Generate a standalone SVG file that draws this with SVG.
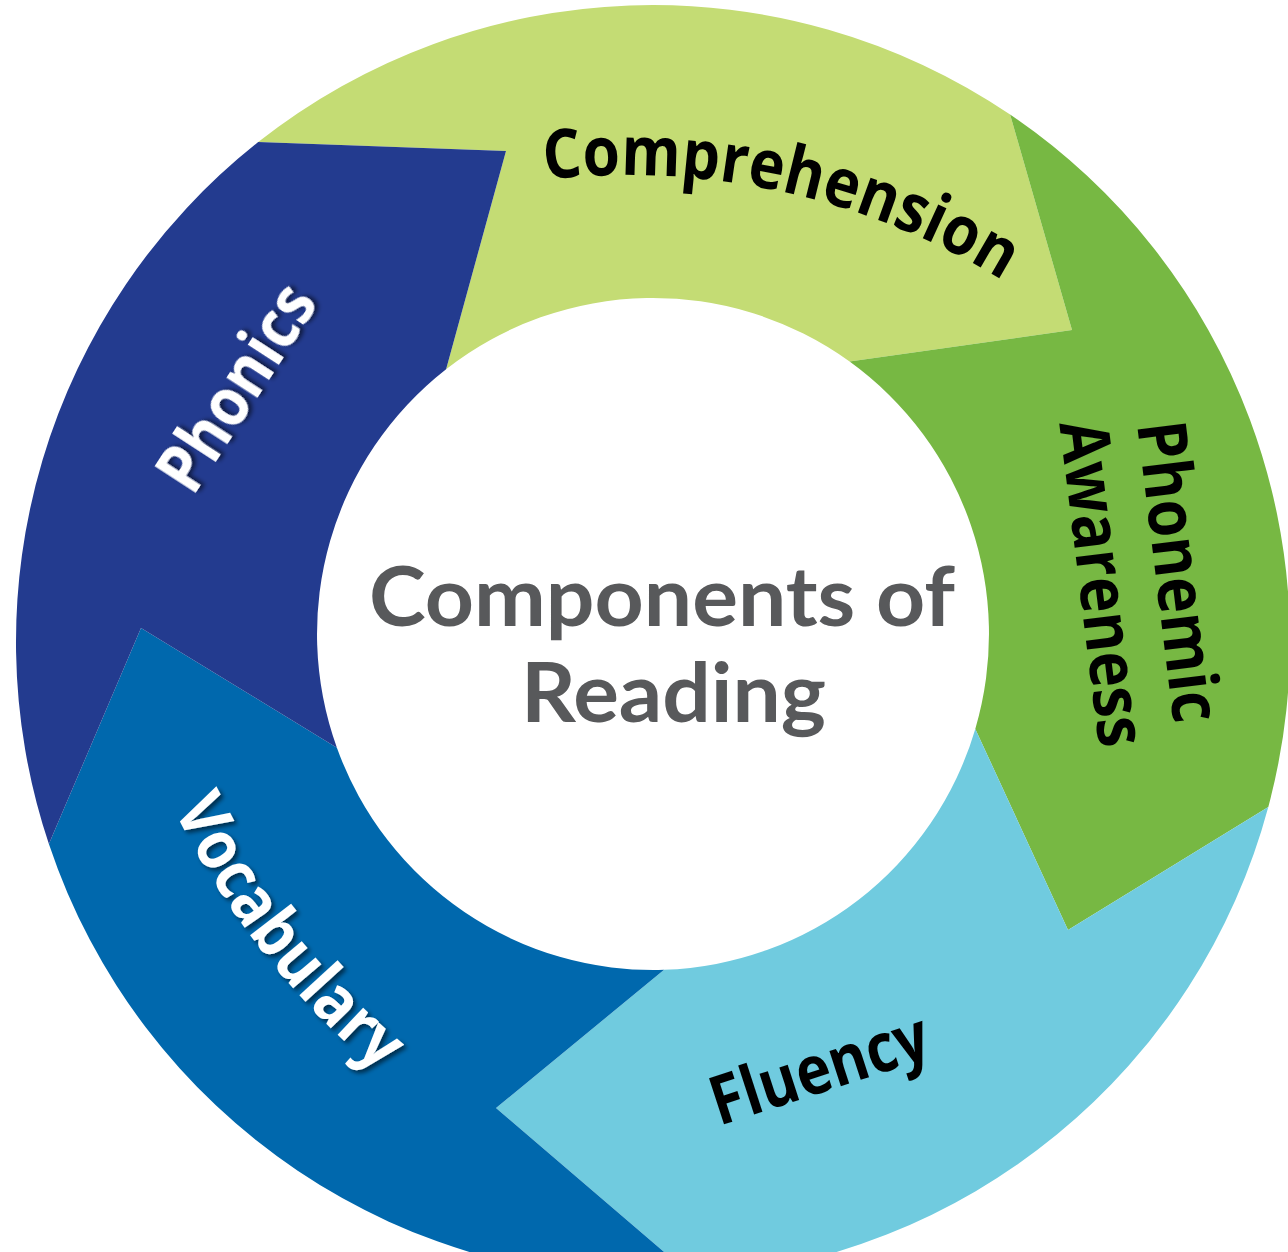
<svg xmlns="http://www.w3.org/2000/svg" width="1288" height="1252" viewBox="0 0 1288 1252">
<defs>
<style>
.lbl{font-family:"Open Sans","Noto Sans","DejaVu Sans",sans-serif;font-weight:700;font-size:68px;fill:#000;}
.wht{fill:#fff;filter:url(#shadow);}
.title{font-family:Lato,"Open Sans",sans-serif;font-weight:700;font-size:82px;fill:#58595B;}
</style>
<filter id="shadow" x="-20%" y="-20%" width="140%" height="140%">
<feDropShadow dx="3" dy="3" stdDeviation="2" flood-color="#000" flood-opacity="0.55"/>
</filter>
<path id="pComp" d="M 503.3,185.9 A 718 718 0 0 1 1089.5,343.0"/>
<path id="pVoc" d="M 136.2,712.2 A 800 800 0 0 0 473.1,1143.4"/>
</defs>
<rect width="1288" height="1252" fill="#fff"/>
<g id="connectors"/>
<g id="comprehension">
<path d="M 1010.1,114.5 A 637 637 0 0 0 258.2,142.1 L 506,151 L 446.1,369.2 A 336 336 0 0 1 849.6,361.5 L 1072,330 Z" fill="#C4DC74"/>
<text class="lbl"><textPath href="#pComp" startOffset="42" textLength="478" lengthAdjust="spacingAndGlyphs">Comprehension</textPath></text>
</g>
<g id="phonemic-awareness">
<path d="M 1268.3,806.9 A 637 637 0 0 0 1010.1,114.5 L 1072,330 L 849.6,361.5 A 336 336 0 0 1 975.3,728.9 L 1068,930 Z" fill="#77B843"/>
<g transform="translate(1137,424) rotate(83)">
<text class="lbl" x="0" y="0" textLength="303" lengthAdjust="spacingAndGlyphs">Phonemic</text>
<text class="lbl" x="-10" y="77" textLength="328" lengthAdjust="spacingAndGlyphs">Awareness</text>
</g>
</g>
<g id="fluency">
<path d="M 694.1,1277.7 A 637 637 0 0 0 1268.3,806.9 L 1068,930 L 975.3,728.9 A 336 336 0 0 1 664.1,969.8 L 496,1108 Z" fill="#70CBDF"/>
<text class="lbl" transform="translate(719,1126) rotate(-18)" textLength="226" lengthAdjust="spacingAndGlyphs">Fluency</text>
</g>
<g id="vocabulary">
<path d="M 48.9,844.1 A 637 637 0 0 0 694.1,1277.7 L 496,1108 L 664.1,969.8 A 336 336 0 0 1 336.9,747.8 L 141,628 Z" fill="#0068AD"/>
<text class="lbl wht" transform="translate(-4,-6)"><textPath href="#pVoc" startOffset="50%" text-anchor="middle" textLength="338" lengthAdjust="spacingAndGlyphs">Vocabulary</textPath></text>
</g>
<g id="phonics">
<path d="M 258.2,142.1 A 637 637 0 0 0 48.9,844.1 L 141,628 L 336.9,747.8 A 336 336 0 0 1 446.1,369.2 L 506,151 Z" fill="#233B8F"/>
<text class="lbl wht" transform="translate(256,400) rotate(-57)" text-anchor="middle" textLength="232" lengthAdjust="spacingAndGlyphs">Phonics</text>
</g>
<g id="center">
<text class="title" x="369" y="626" textLength="586" lengthAdjust="spacingAndGlyphs">Components of</text>
<text class="title" x="521" y="722" textLength="305" lengthAdjust="spacingAndGlyphs">Reading</text>
</g>
</svg>
